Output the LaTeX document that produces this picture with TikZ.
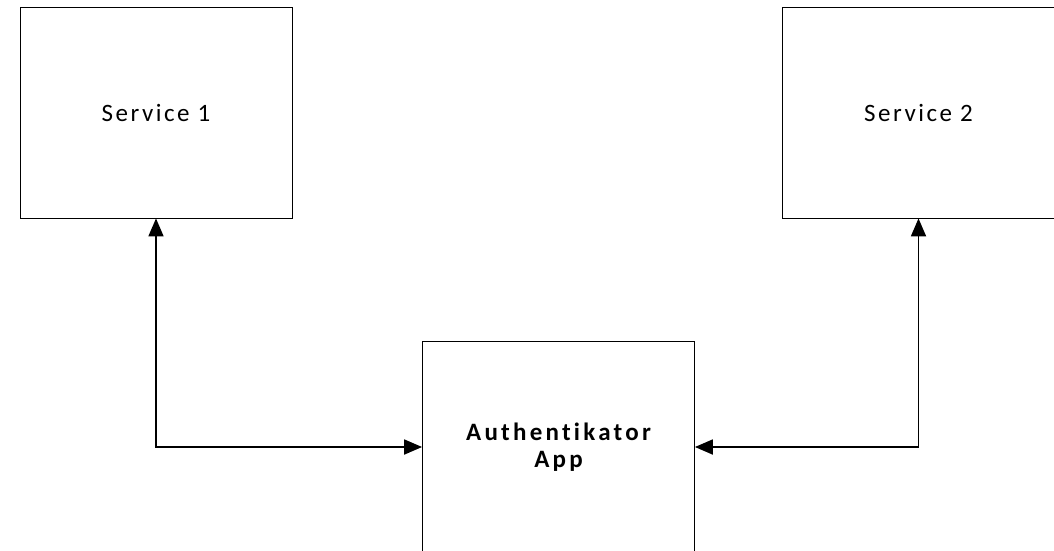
\documentclass[tikz,border=0pt]{standalone}
\usepackage{fontspec}
\setmainfont{Carlito}[LetterSpace=10, Ligatures=NoCommon]
\newfontfamily\boldwide{Carlito}[LetterSpace=13, Ligatures=NoCommon]
\usetikzlibrary{arrows.meta}
\usetikzlibrary{positioning}
\tikzset{box/.style = {draw, line width = 0.8, minimum width = 272, minimum height = 211,
                       inner sep = 0, align = center, font = \fontsize{25}{27}\selectfont}}
\tikzset{link/.style = {line width = 1.8, {Triangle[length=18pt, width=15pt]}-{Triangle[length=18pt, width=15pt]}}}

\begin{document}
\begin{tikzpicture}[x = 1pt, y = -1pt]
    \useasboundingbox (0, 0) rectangle (1054, 550);

    \node [box] (service1) at (156, 112.5) {Service 1};
    \node [box] (service2) at (918.5, 112.5) {Service 2};
    \node [box, font = \fontsize{25}{27}\selectfont\boldwide\bfseries] (auth) at (558.5, 447) {Authentikator\\App};

    \draw [link] (service1.south) |- (auth.west);
    \draw [link] (service2.south) |- (auth.east);
  \end{tikzpicture}
\end{document}
